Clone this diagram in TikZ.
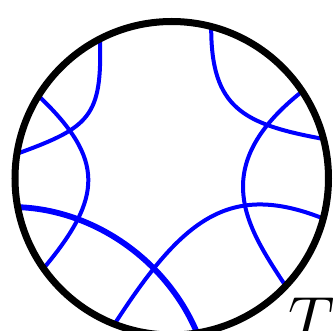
\documentclass[tikz,border=0pt]{standalone}
\begin{document}
\begin{tikzpicture}[x=1pt,y=-1pt,
  geo/.style={draw=blue,line width=4pt},
  geothick/.style={draw=blue,line width=5.8pt},
  rim/.style={draw=black,line width=7pt}]
\useasboundingbox (0,0) rectangle (333,331);
\clip (0,0) rectangle (333,331);
% boundary points of the blue curves
\coordinate (a1) at (100,41.5);   \coordinate (a2) at (18.8,153.1);
\coordinate (b1) at (39.5,96.8);  \coordinate (b2) at (44.5,267.3);
\coordinate (c1) at (19.3,207.2); \coordinate (c2) at (197.5,334);
\coordinate (d1) at (115,323.3);  \coordinate (d2) at (322.7,218.3);
\coordinate (e1) at (211.2,28);   \coordinate (e2) at (322,138.7);
\coordinate (f1) at (300.9,92.4); \coordinate (f2) at (285,285);
% blue curves
\draw[geo] (a1) .. controls (102,116.5) and (89.3,127.4) .. (a2);
\draw[geo] (b1) .. controls (104.9,159.5) and (102.6,197.4) .. (b2);
\draw[geothick] (c1) .. controls (96.5,210.5) and (168.2,262.5) .. (c2);
\draw[geo] (d1) .. controls (182.9,218.3) and (229.7,181.6) .. (d2);
\draw[geo] (e1) .. controls (211.2,108) and (243.4,124.1) .. (e2);
\draw[geo] (f1) .. controls (207.2,167.3) and (246.5,226.5) .. (f2);
% boundary circle
\node[circle,minimum size=313.5pt,inner sep=0pt,rim] (disk) at (171.75,178.25) {};
% label
\node[anchor=base west,inner sep=0pt,scale=6.4] (lab) at (287,342) {$T$};
\end{tikzpicture}
\end{document}
